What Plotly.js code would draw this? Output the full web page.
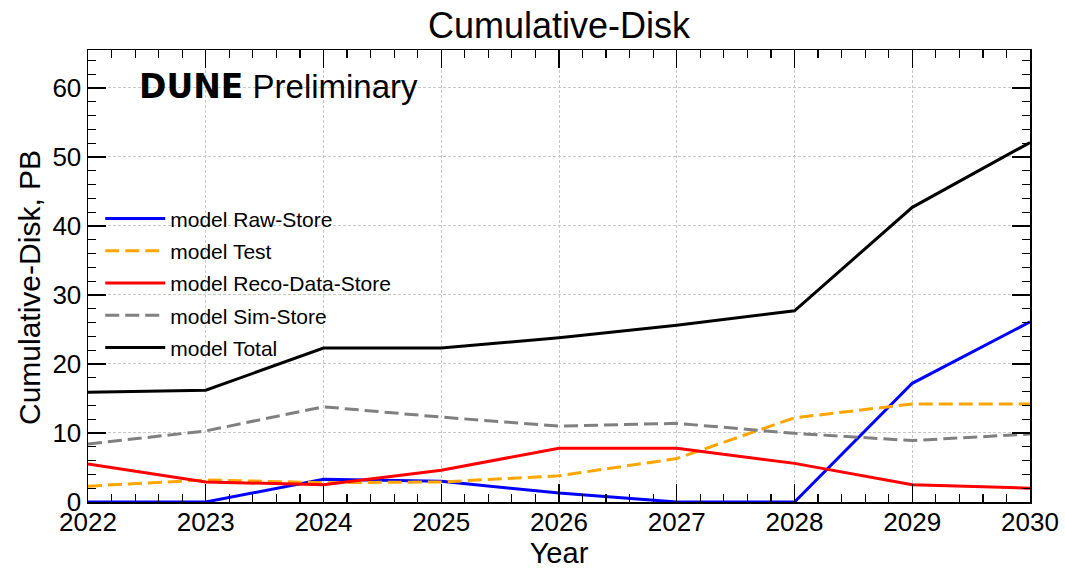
<!DOCTYPE html>
<html>
<head>
<meta charset="utf-8">
<script src="https://cdn.plot.ly/plotly-3.0.1.min.js"></script>
<style>html,body{margin:0;padding:0;background:#fff;}#chart{width:1065px;height:570px;}</style>
</head>
<body>
<div id="chart"></div>
<script>
const years = [2022, 2023, 2024, 2025, 2026, 2027, 2028, 2029, 2030];
const rawStore = [0, 0, 3.3, 3.0, 1.3, 0, 0, 17.2, 26.1];
const testStore = [2.3, 3.2, 2.8, 2.9, 3.8, 6.3, 12.2, 14.2, 14.2];
const recoDataStore = [5.5, 2.9, 2.5, 4.6, 7.8, 7.8, 5.6, 2.5, 2.0];
const simStore = [8.4, 10.3, 13.8, 12.3, 11.0, 11.4, 9.95, 8.9, 9.85];
const total = [15.9, 16.2, 22.3, 22.3, 23.8, 25.6, 27.7, 42.7, 52.1];
const seriesNames = ['model Raw-Store', 'model Test', 'model Reco-Data-Store', 'model Sim-Store', 'model Total'];
const xTickLabels = ['2022', '2023', '2024', '2025', '2026', '2027', '2028', '2029', '2030'];

const styles = [
  {color: '#0000ff', dash: 'solid'},
  {color: '#ffa500', dash: '14px,6px'},
  {color: '#ff0000', dash: 'solid'},
  {color: '#808080', dash: '14px,6px'},
  {color: '#000000', dash: 'solid'}
];
const allSeries = [rawStore, testStore, recoDataStore, simStore, total];
const traces = allSeries.map((ys, i) => ({
  x: years, y: ys, type: 'scatter', mode: 'lines', name: seriesNames[i],
  legendgroup: 'g' + i,
  line: {color: styles[i].color, width: 3, dash: styles[i].dash}
}));

const F = 'Liberation Sans, Arial, sans-serif';
const layout = {
  width: 1065, height: 570,
  margin: {l: 88, r: 35, t: 50, b: 68},
  paper_bgcolor: '#fff', plot_bgcolor: '#fff',
  font: {family: F, color: '#000'},
  title: {text: 'Cumulative-Disk', font: {size: 36, family: F}, x: 0.5, xref: 'paper', xanchor: 'center', y: 1 - 25/570, yanchor: 'middle'},
  showlegend: true,
  legend: {x: 0.013, y: 0.672, xanchor: 'left', yanchor: 'top', bgcolor: 'rgba(0,0,0,0)', font: {size: 21, family: F}, tracegroupgap: 2, itemwidth: 60},
  xaxis: {
    range: [2022, 2030], tickvals: years, ticktext: xTickLabels,
    showline: true, linecolor: '#000', linewidth: 1.5, mirror: 'allticks',
    ticks: 'inside', ticklen: 18, tickwidth: 1.3, tickcolor: '#000',
    tickfont: {size: 26, family: F}, ticklabelstandoff: -4,
    showgrid: true, gridcolor: '#c8c8c8', gridwidth: 1, griddash: '3px,2px',
    zeroline: false,
    minor: {dtick: 0.2, ticks: 'inside', ticklen: 8, tickwidth: 1.2, tickcolor: '#000', showgrid: false},
    title: {text: 'Year', font: {size: 29, family: F}, standoff: 6}
  },
  yaxis: {
    range: [0, 65.5], tickvals: [0, 10, 20, 30, 40, 50, 60],
    showline: true, linecolor: '#000', linewidth: 1.5, mirror: 'allticks',
    ticks: 'inside', ticklen: 18, tickwidth: 1.3, tickcolor: '#000',
    tickfont: {size: 26, family: F},
    showgrid: true, gridcolor: '#c8c8c8', gridwidth: 1, griddash: '3px,2px',
    zeroline: false,
    minor: {dtick: 2, ticks: 'inside', ticklen: 8, tickwidth: 1.2, tickcolor: '#000', showgrid: false}
  },
  annotations: [{
    xref: 'paper', yref: 'paper', x: (137-88)/942, y: (502-86)/452, xanchor: 'left', yanchor: 'middle',
    showarrow: false,
    text: '<span style="font-family:\'DejaVu Sans\';font-weight:bold">DUNE</span> Preliminary',
    font: {size: 33, family: F, color: '#000'}
  }, {
    xref: 'paper', yref: 'paper', x: (29-88)/942, y: (502-288)/452, xanchor: 'center', yanchor: 'middle',
    showarrow: false, textangle: -90,
    text: 'Cumulative-Disk, PB',
    font: {size: 30, family: F, color: '#000'}
  }]
};
Plotly.newPlot('chart', traces, layout, {displayModeBar: false, staticPlot: true});
</script>
</body>
</html>
